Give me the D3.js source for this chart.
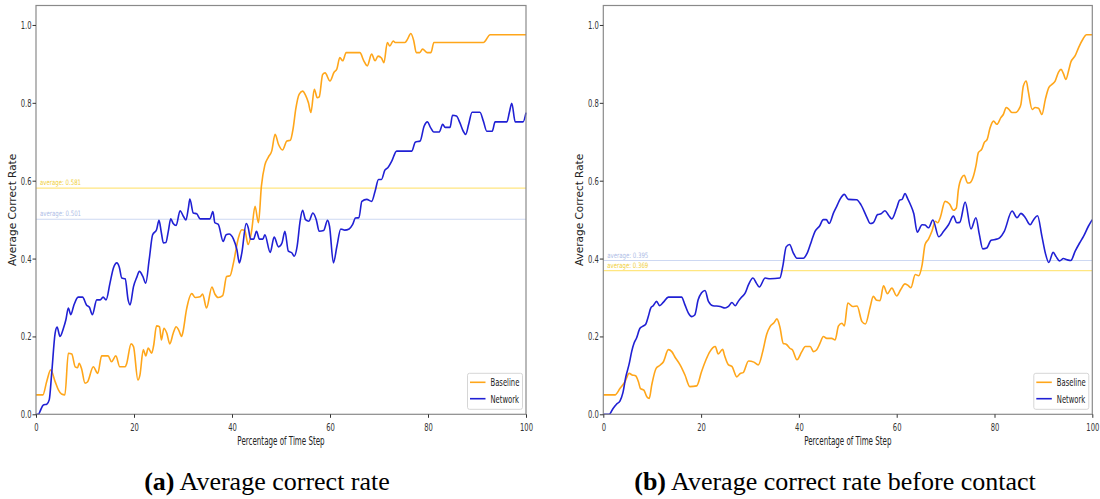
<!DOCTYPE html>
<meta charset="utf-8">
<style>
body { margin: 0; background: #fff; }
svg { display: block; }
.axis text { font: 11px "DejaVu Sans", sans-serif; fill: #333; }
.axis line { stroke: #333; }
.caption { font-family: "Liberation Serif", "Times New Roman", serif; font-size: 26px; fill: #000; }
</style>
<svg id="chart" width="1100" height="499"></svg>
<script src="https://d3js.org/d3.v7.min.js"></script>
<script>

// ---- data ----
var xTicks = [0, 20, 40, 60, 80, 100];
var yTicks = [0, 0.2, 0.4, 0.6, 0.8, 1.0];
var seriesNames = ["Baseline", "Network"];
var captionTags = ["(a)", "(b)"];
var captionTexts = [" Average correct rate", " Average correct rate before contact"];
var averagesA = [0.581, 0.501];   // baseline, network
var averagesB = [0.369, 0.395];

// panel (a): [percentage of time step, correct rate]
var baselineA = [[0,0.05],[1.4,0.05],[2.2,0.085],[3.0,0.114],[3.9,0.084],[4.6,0.062],[5.2,0.052],[5.9,0.05],[6.6,0.157],[7.3,0.155],[8.0,0.122],[8.5,0.12],[8.8,0.131],[9.3,0.117],[10.0,0.08],[10.5,0.083],[11.7,0.122],[12.6,0.105],[13.4,0.15],[14.7,0.15],[15.4,0.135],[16.3,0.15],[17.1,0.122],[18.2,0.122],[18.5,0.13],[19.4,0.181],[19.9,0.174],[20.8,0.088],[21.2,0.1],[21.9,0.166],[22.4,0.15],[22.9,0.17],[23.6,0.157],[24.0,0.176],[24.6,0.227],[25.2,0.225],[25.6,0.191],[26.1,0.221],[26.7,0.208],[27.3,0.181],[28.0,0.208],[28.6,0.225],[29.1,0.217],[29.7,0.2],[30.0,0.212],[30.7,0.268],[31.8,0.31],[32.5,0.3],[33.5,0.302],[34.0,0.309],[34.8,0.273],[35.9,0.327],[36.5,0.309],[37.2,0.3],[38.1,0.305],[38.9,0.354],[39.6,0.356],[40.3,0.389],[41.3,0.453],[42.0,0.474],[42.6,0.472],[43.3,0.436],[44.0,0.471],[44.7,0.534],[45.4,0.492],[46.0,0.586],[46.7,0.64],[47.4,0.66],[48.1,0.676],[48.8,0.719],[49.5,0.693],[50.3,0.679],[51.2,0.702],[51.9,0.704],[52.5,0.736],[53.0,0.783],[53.7,0.822],[54.4,0.83],[55.0,0.82],[55.6,0.8],[56.1,0.775],[56.8,0.835],[57.4,0.813],[57.8,0.815],[58.5,0.873],[59.0,0.877],[60.0,0.856],[60.8,0.878],[61.4,0.887],[62.0,0.916],[62.6,0.908],[63.3,0.929],[66.1,0.929],[66.9,0.908],[67.6,0.895],[68.5,0.925],[69.2,0.908],[69.8,0.92],[70.5,0.915],[71.0,0.903],[71.7,0.955],[72.2,0.946],[72.9,0.959],[73.3,0.955],[75.3,0.955],[75.8,0.963],[76.5,0.978],[77.1,0.959],[77.6,0.929],[78.3,0.929],[78.9,0.938],[79.8,0.929],[80.6,0.929],[81.2,0.955],[91.3,0.955],[92.7,0.975],[100,0.975]];

var networkA = [[0,0],[0.5,0],[0.8,0.007],[1.5,0.024],[2.2,0.026],[2.7,0.037],[3.2,0.105],[3.9,0.208],[4.3,0.224],[4.9,0.2],[5.6,0.221],[6.1,0.243],[6.6,0.273],[7.1,0.256],[7.7,0.279],[8.6,0.301],[9.5,0.301],[10.3,0.281],[10.9,0.275],[11.5,0.256],[12.4,0.294],[13.1,0.294],[13.7,0.301],[14.3,0.294],[15.1,0.337],[15.8,0.376],[16.5,0.389],[17.0,0.378],[17.5,0.35],[18.2,0.348],[18.8,0.294],[19.2,0.281],[19.9,0.328],[20.6,0.353],[21.1,0.367],[21.8,0.354],[22.4,0.337],[23.1,0.397],[23.8,0.461],[24.6,0.474],[25.1,0.498],[25.6,0.465],[26.0,0.44],[26.5,0.441],[27.0,0.47],[27.5,0.502],[28.0,0.49],[28.6,0.485],[29.4,0.523],[30.1,0.508],[30.6,0.499],[31.1,0.53],[31.4,0.553],[32.1,0.517],[32.8,0.515],[33.5,0.502],[35.5,0.502],[36.1,0.521],[36.5,0.492],[37.2,0.488],[38.2,0.444],[38.8,0.461],[39.4,0.463],[40.3,0.45],[41.0,0.423],[41.5,0.389],[42.0,0.414],[42.9,0.49],[43.3,0.48],[43.8,0.45],[44.4,0.45],[45.0,0.47],[45.6,0.45],[46.3,0.45],[46.7,0.461],[47.8,0.416],[48.6,0.455],[49.5,0.43],[50.2,0.44],[50.8,0.47],[51.5,0.419],[52.2,0.415],[52.7,0.406],[53.3,0.432],[53.9,0.496],[54.4,0.524],[55.0,0.5],[55.7,0.496],[56.5,0.517],[57.2,0.5],[57.8,0.47],[58.7,0.472],[59.5,0.498],[59.9,0.483],[60.7,0.389],[61.4,0.431],[62.2,0.476],[63.0,0.473],[63.9,0.476],[64.6,0.487],[65.2,0.504],[65.9,0.505],[66.5,0.547],[67.5,0.552],[68.5,0.547],[69.2,0.573],[69.9,0.603],[70.5,0.603],[71.2,0.627],[71.8,0.633],[72.6,0.65],[73.6,0.676],[76.7,0.676],[77.4,0.699],[78.4,0.702],[79.2,0.74],[79.9,0.751],[80.5,0.737],[81.2,0.725],[82.3,0.725],[83.0,0.745],[83.5,0.737],[84.5,0.737],[85.0,0.768],[85.8,0.766],[86.5,0.749],[87.2,0.727],[87.7,0.719],[88.3,0.745],[89.0,0.776],[90.6,0.776],[91.3,0.753],[92.0,0.727],[93.1,0.727],[93.7,0.751],[96.1,0.751],[96.6,0.775],[97.1,0.799],[97.8,0.751],[99.4,0.751],[100,0.775]];

// panel (b)
var baselineB = [[0,0.05],[2.4,0.05],[3.4,0.066],[4.4,0.083],[5.3,0.105],[5.9,0.101],[6.6,0.099],[7.2,0.083],[7.6,0.066],[8.3,0.062],[8.9,0.045],[9.4,0.041],[9.9,0.075],[10.8,0.118],[11.6,0.126],[12.3,0.135],[13.3,0.166],[14.0,0.161],[14.7,0.146],[15.7,0.127],[16.7,0.101],[17.7,0.071],[19.1,0.073],[20.1,0.11],[21.0,0.14],[21.8,0.161],[22.9,0.174],[23.5,0.155],[24.4,0.167],[24.8,0.151],[25.6,0.127],[26.3,0.123],[27.3,0.096],[28.0,0.105],[28.6,0.107],[29.7,0.137],[30.8,0.134],[31.7,0.127],[32.6,0.161],[33.4,0.205],[34.1,0.225],[34.9,0.235],[35.5,0.245],[36.1,0.225],[36.8,0.182],[37.4,0.18],[38.2,0.169],[38.7,0.165],[39.6,0.14],[40.6,0.161],[41.3,0.174],[42.3,0.174],[43.0,0.161],[43.6,0.165],[44.3,0.182],[45.0,0.2],[45.7,0.195],[46.7,0.195],[47.4,0.191],[48.1,0.227],[48.8,0.234],[49.3,0.227],[50.0,0.286],[51.0,0.277],[51.9,0.278],[52.9,0.238],[53.6,0.232],[54.6,0.277],[55.2,0.303],[55.9,0.293],[56.6,0.292],[57.3,0.33],[58.1,0.31],[59.0,0.324],[60.0,0.304],[60.8,0.32],[61.7,0.335],[62.4,0.33],[62.9,0.325],[63.8,0.359],[64.5,0.356],[65.2,0.384],[65.8,0.436],[66.5,0.45],[67.2,0.47],[67.9,0.496],[68.4,0.492],[68.9,0.505],[69.9,0.547],[70.8,0.54],[71.6,0.524],[72.2,0.53],[72.6,0.576],[73.3,0.608],[73.8,0.614],[74.5,0.594],[75.0,0.595],[75.7,0.612],[76.2,0.638],[76.7,0.672],[77.4,0.681],[77.9,0.698],[78.5,0.706],[79.1,0.736],[79.8,0.753],[80.5,0.745],[81.3,0.762],[81.8,0.77],[82.4,0.788],[82.9,0.784],[83.6,0.775],[84.3,0.775],[85.0,0.784],[85.4,0.796],[85.9,0.843],[86.5,0.856],[86.9,0.83],[87.7,0.783],[88.3,0.788],[89.0,0.786],[89.7,0.77],[90.4,0.809],[91.1,0.839],[91.8,0.848],[92.4,0.856],[93.1,0.879],[93.6,0.886],[94.1,0.875],[94.6,0.86],[95.2,0.885],[95.6,0.904],[96.5,0.921],[97.2,0.942],[98.1,0.964],[98.8,0.975],[100,0.975]];

var networkB = [[0,0],[1.2,0],[2.0,0.015],[2.7,0.026],[3.4,0.034],[4.0,0.055],[4.6,0.096],[5.3,0.13],[5.8,0.161],[6.3,0.183],[6.8,0.196],[7.5,0.221],[8.2,0.227],[8.7,0.232],[9.2,0.251],[9.7,0.273],[10.2,0.279],[10.9,0.29],[11.5,0.279],[12.3,0.288],[13.3,0.301],[16.0,0.301],[16.7,0.281],[17.4,0.26],[18.1,0.251],[18.7,0.255],[19.4,0.294],[20.1,0.312],[20.8,0.318],[21.5,0.29],[22.4,0.279],[23.9,0.277],[24.9,0.273],[25.6,0.277],[26.3,0.287],[27.0,0.279],[27.6,0.29],[28.3,0.301],[29.0,0.311],[29.7,0.333],[30.6,0.35],[31.3,0.337],[31.9,0.327],[33.1,0.35],[34.1,0.348],[36.1,0.35],[36.7,0.38],[37.4,0.43],[38.1,0.436],[38.8,0.416],[39.6,0.401],[40.9,0.401],[41.7,0.414],[42.6,0.446],[43.3,0.47],[44.2,0.483],[45.0,0.5],[45.6,0.5],[46.2,0.49],[47.1,0.518],[47.8,0.536],[48.4,0.552],[49.3,0.565],[50.1,0.552],[51.8,0.551],[52.7,0.538],[53.9,0.506],[54.6,0.49],[55.2,0.492],[56.1,0.513],[56.8,0.515],[57.6,0.523],[58.3,0.512],[59.0,0.502],[60.0,0.53],[60.6,0.55],[61.1,0.552],[61.7,0.567],[62.2,0.555],[62.8,0.539],[63.5,0.515],[64.2,0.468],[65.2,0.487],[65.8,0.486],[66.5,0.479],[67.4,0.499],[68.6,0.456],[69.6,0.47],[70.6,0.487],[71.6,0.509],[72.3,0.492],[72.9,0.493],[74.0,0.545],[75.2,0.476],[76.2,0.505],[76.9,0.462],[77.6,0.425],[78.4,0.427],[79.3,0.447],[80.5,0.45],[81.1,0.454],[82.0,0.47],[83.6,0.522],[84.6,0.505],[85.4,0.516],[86.3,0.505],[87.3,0.487],[88.0,0.5],[88.8,0.51],[89.7,0.457],[90.4,0.414],[91.1,0.39],[92.0,0.416],[92.6,0.405],[93.3,0.394],[94.1,0.4],[94.8,0.397],[95.6,0.395],[96.5,0.419],[97.4,0.44],[98.2,0.457],[99.2,0.483],[100,0.5]];

// ---- drawing ----
var colors = ["#ffa61a", "#2020d4"];
var avgLineColors = ["#ffe680", "#cdd8f2"];
var avgTextColors = ["#f0cf3a", "#aebde6"];
var squeeze = 0.62;   // the picture's sans text is horizontally condensed

var svg = d3.select("#chart");
svg.append("rect").attr("width", 1100).attr("height", 499).attr("fill", "#fff");

var panels = [
  {left: 36, width: 490, series: [baselineA, networkA], averages: averagesA, capX: 267},
  {left: 603.3, width: 489, series: [baselineB, networkB], averages: averagesB, capX: 835}
];
var plotTop = 5.5, plotHeight = 408.8;

var line = d3.line()
    .x(function (d) { return d[0]; })
    .y(function (d) { return d[1]; })
    .curve(d3.curveMonotoneX);

panels.forEach(function (p, pi) {
  var x = d3.scaleLinear().domain([0, 100]).range([0, p.width]);
  var y = d3.scaleLinear().domain([0, 1.05]).range([plotHeight, 0]);

  var g = svg.append("g")
      .attr("transform", "translate(" + p.left + "," + plotTop + ")");

  // average lines, drawn under the curves
  var avgOrder = pi == 0 ? [0, 1] : [1, 0];
  avgOrder.forEach(function (k) {
    var v = p.averages[k];
    g.append("line")
        .attr("x1", 0).attr("x2", p.width)
        .attr("y1", y(v)).attr("y2", y(v))
        .attr("stroke", avgLineColors[k])
        .attr("stroke-width", 1.2);
    g.append("text")
        .attr("transform", "translate(4," + (y(v) - 3) + ") scale(0.72,1)")
        .attr("font-family", "DejaVu Sans, sans-serif")
        .attr("font-size", 7.5)
        .attr("fill", avgTextColors[k])
        .text("average: " + d3.format(".3f")(v));
  });

  // curves
  p.series.forEach(function (data, k) {
    g.append("path")
        .datum(data.map(function (d) { return [x(d[0]), y(d[1])]; }))
        .attr("fill", "none")
        .attr("stroke", colors[k])
        .attr("stroke-width", 1.6)
        .attr("stroke-linejoin", "round")
        .attr("d", line);
  });

  // frame
  g.append("rect")
      .attr("width", p.width).attr("height", plotHeight)
      .attr("fill", "none")
      .attr("stroke", "#8a8a8a")
      .attr("stroke-width", 1.2);

  // axes
  var xAxis = g.append("g")
      .attr("class", "axis")
      .attr("transform", "translate(0," + plotHeight + ")")
      .call(d3.axisBottom(x).tickValues(xTicks).tickSize(3.5).tickFormat(d3.format("d")));
  xAxis.select(".domain").remove();
  xAxis.selectAll("text")
      .attr("y", 8.5)
      .attr("transform", "scale(" + squeeze + ",1)");

  var yAxis = g.append("g")
      .attr("class", "axis")
      .call(d3.axisLeft(y).tickValues(yTicks).tickSize(3.5).tickFormat(d3.format(".1f")));
  yAxis.select(".domain").remove();
  yAxis.selectAll("text")
      .attr("x", -4.5 / squeeze)
      .attr("transform", "scale(" + squeeze + ",1)");

  // axis titles
  g.append("text")
      .attr("transform", "translate(" + (p.width / 2) + "," + (plotHeight + 31) + ") scale(" + squeeze + ",1)")
      .attr("text-anchor", "middle")
      .attr("font-family", "DejaVu Sans, sans-serif")
      .attr("font-size", 11.5)
      .attr("fill", "#222")
      .text("Percentage of Time Step");

  g.append("text")
      .attr("transform", "translate(-20," + (plotHeight / 2) + ") rotate(-90)")
      .attr("text-anchor", "middle")
      .attr("font-family", "DejaVu Sans, sans-serif")
      .attr("font-size", 10.5)
      .attr("fill", "#222")
      .text("Average Correct Rate");

  // legend
  var lg = g.append("g")
      .attr("transform", "translate(" + (p.width - 58.5) + "," + (plotHeight - 41) + ")");
  lg.append("rect")
      .attr("width", 55).attr("height", 36)
      .attr("rx", 2)
      .attr("fill", "#fff")
      .attr("stroke", "#d6d6d6");
  seriesNames.forEach(function (name, k) {
    var ly = 9 + k * 16.4;
    lg.append("line")
        .attr("x1", 2.5).attr("x2", 18)
        .attr("y1", ly).attr("y2", ly)
        .attr("stroke", colors[k])
        .attr("stroke-width", 1.6);
    lg.append("text")
        .attr("transform", "translate(23," + (ly + 4) + ") scale(" + squeeze + ",1)")
        .attr("font-family", "DejaVu Sans, sans-serif")
        .attr("font-size", 11)
        .attr("fill", "#222")
        .text(name);
  });

  // caption
  var cap = svg.append("text")
      .attr("class", "caption")
      .attr("x", p.capX)
      .attr("y", 490)
      .attr("text-anchor", "middle");
  cap.append("tspan").attr("font-weight", "bold").text(captionTags[pi]);
  cap.append("tspan").text(captionTexts[pi]);
});

</script>
